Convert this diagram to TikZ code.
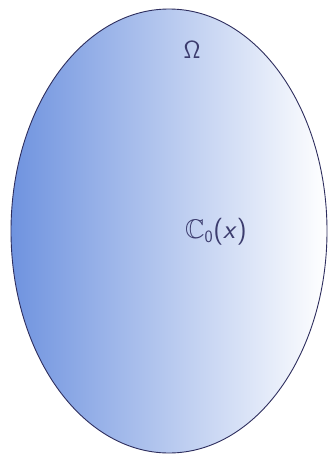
\documentclass[tikz,border=0pt]{standalone}
\usepackage{amssymb}
\definecolor{regionblue}{HTML}{6F93DF}
\definecolor{edgenavy}{HTML}{2E2E5E}
\definecolor{labelslate}{HTML}{3C3C6E}
\begin{document}
\begin{tikzpicture}[x=1pt, y=-1pt]
    % Khung hình
    \useasboundingbox (0, 0) rectangle (329, 455);

    % Miền Omega (hình elip tô màu)
    \draw[edgenavy, line width=0.9pt, left color=regionblue, right color=white]
        (169, 231) ellipse [x radius=158, y radius=222];

    % Nhãn
    \node[labelslate, font=\fontsize{27}{30}\selectfont\sffamily] (omega) at (192, 50)
        {$\mathsf{\Omega}$};
    \node[labelslate, font=\fontsize{27}{30}\selectfont\sffamily] (cspace) at (216, 232)
        {$\mathbb{C}_{\mathsf{0}}$(\textit{x})};
\end{tikzpicture}
\end{document}
